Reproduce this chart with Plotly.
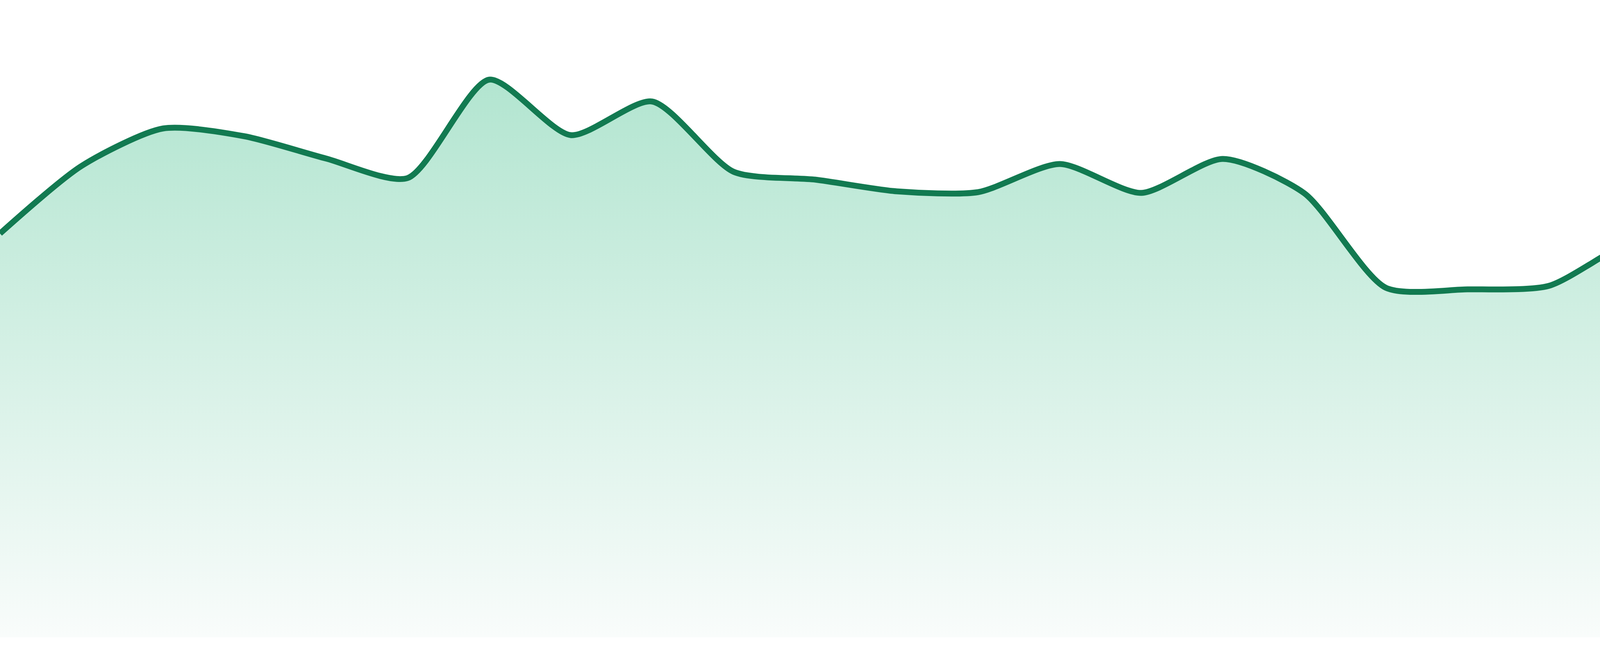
import plotly.graph_objects as go

# x positions of the samples (evenly spaced)
days = list(range(24))

# series values
values = [103.4, 120.7, 130.3, 128.3, 122.6, 117.6, 142.8, 128.6,
          137.2, 119.2, 117.2, 114.2, 114.0, 121.2, 113.8, 122.5,
          113.7, 89.5, 89.1, 90.0, 101.2, 104.4, 112.1, 99.0]

line_color = '#127a51'

fig = go.Figure()

fig.add_trace(go.Scatter(
    x=days, y=values,
    mode='lines',
    line=dict(color=line_color, width=15, shape='spline', smoothing=0.7),
    fill='tozeroy',
    fillgradient=dict(type='vertical', start=0, stop=143,
                      colorscale=[[0, 'rgb(249,252,251)'],
                                  [1, 'rgb(178,229,208)']]),
    hoverinfo='skip',
    showlegend=False,
))

fig.update_layout(
    width=4800, height=1680,
    margin=dict(l=0, r=0, t=0, b=48),
    paper_bgcolor='white',
    plot_bgcolor='white',
    xaxis=dict(range=[0, 23], visible=False, fixedrange=True),
    yaxis=dict(range=[0, 163.2], visible=False, fixedrange=True),
)

# drop the default page margin so the chart sits flush in the window
fig.write_html("out.html", config={'displayModeBar': False},
               post_script="document.body.style.margin='0';"
                           "document.body.style.overflow='hidden';")
